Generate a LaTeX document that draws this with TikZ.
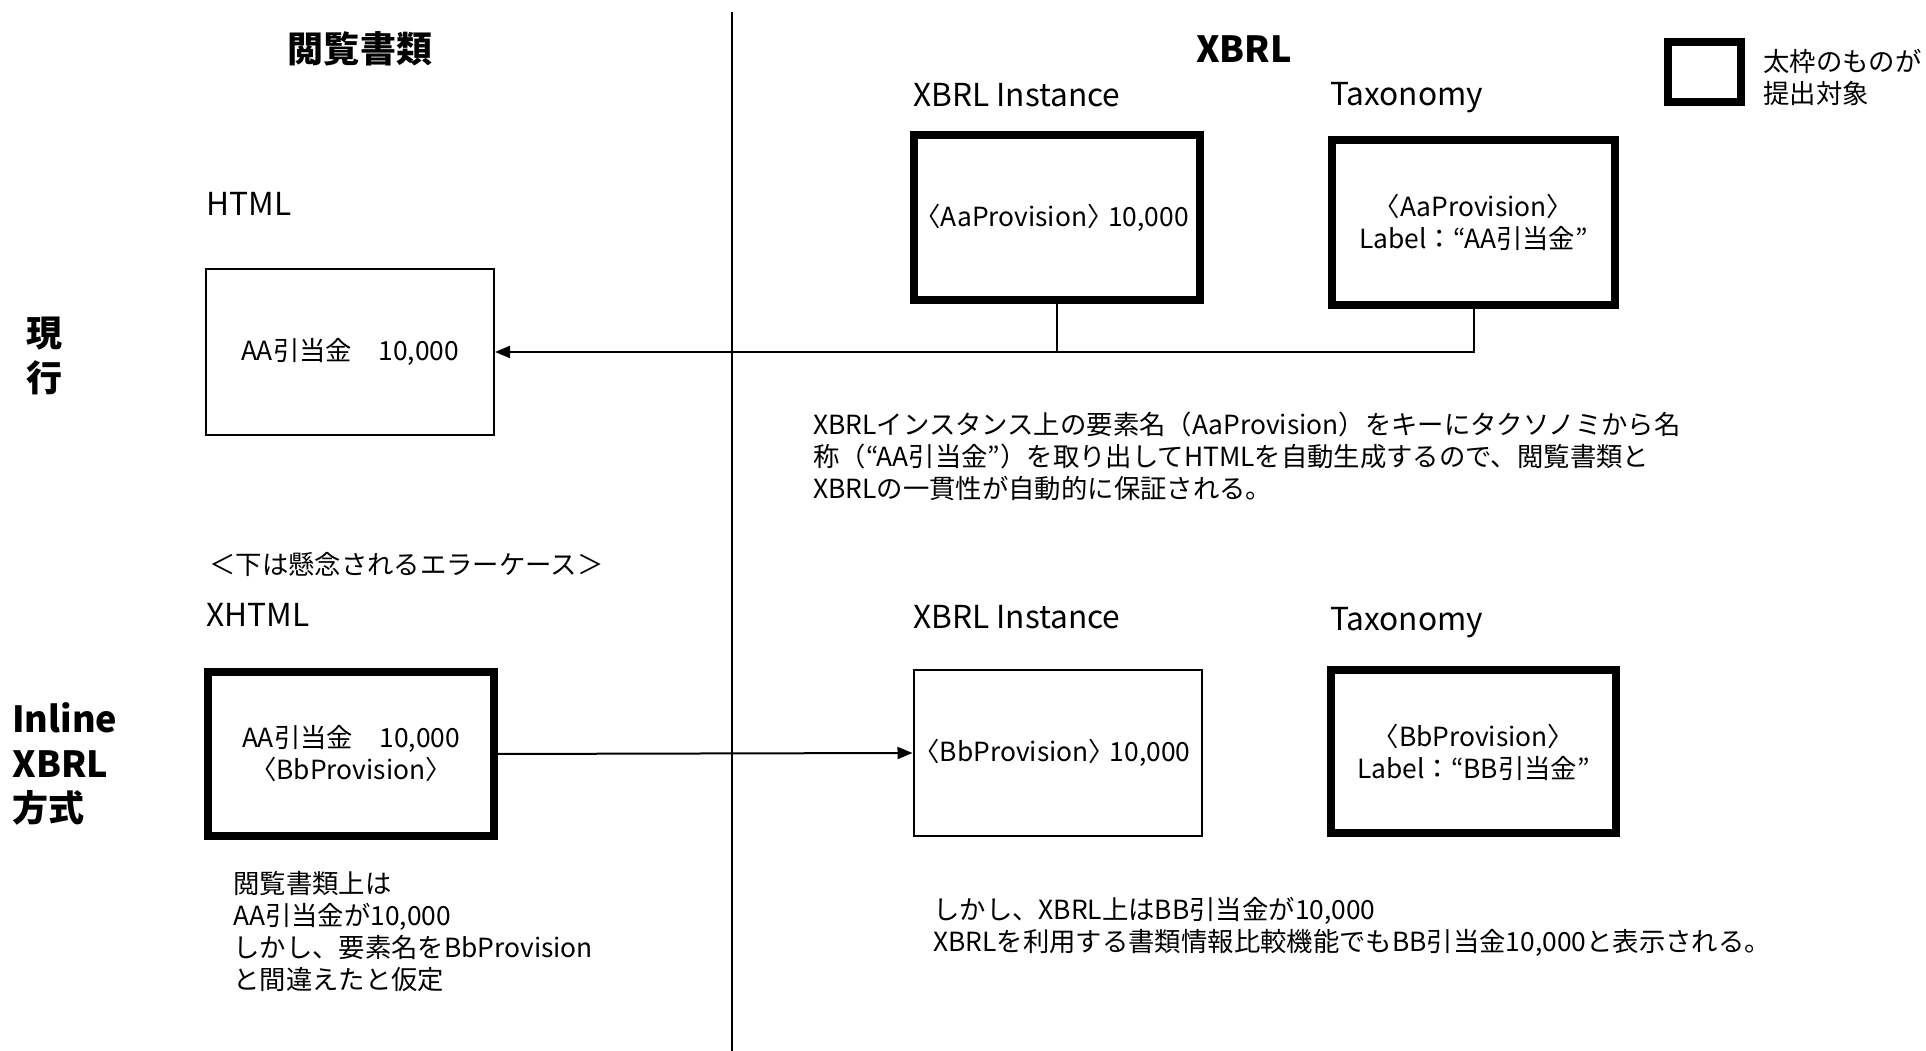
\documentclass[tikz,border=0pt]{standalone}
\usepackage{fontspec}
\setmainfont{Noto Sans CJK JP}
\usetikzlibrary{arrows.meta}

% half-width angle brackets
\newcommand{\openang}{\kern-0.42em〈}
\newcommand{\closeang}{〉\kern-0.42em}

\tikzset{
  body/.style={font=\fontsize{15}{18.2}\selectfont},
  thinbox/.style={draw, line width=0.04cm, align=center, inner sep=0pt, body},
  thickbox/.style={draw, line width=0.16cm, align=center, inner sep=0pt, body},
  lbl/.style={font=\fontsize{18}{21}\selectfont, anchor=west, inner sep=0pt},
  ttl/.style={font=\fontsize{20.5}{25.5}\selectfont\bfseries, inner sep=0pt},
  note/.style={body, anchor=west, align=left, inner sep=0pt},
  link/.style={line width=0.04cm},
}

\begin{document}
\begin{tikzpicture}
        \useasboundingbox (0,0) rectangle (38.52,21.02);

        % Draw the line between the two columns
        \draw[link, line width=0.03cm] (14.64,20.78) -- (14.64,0);

        % Column titles and legend
        \node[ttl] (docs) at (7.2,20.04) {閲覧書類};
        \node[ttl] (xbrl) at (24.88,20.04) {XBRL};
        \node[draw, line width=0.16cm, minimum width=1.46cm, minimum height=1.2cm] (legend) at (34.09,19.58) {};
        \node[note] (legendtext) at (35.26,19.48) {太枠のものが\\提出対象};

        % Current method
        \node[ttl, align=center] (current) at (0.9,13.9) {現\\行};
        \node[lbl] (htmllbl) at (4.12,16.94) {HTML};
        \node[lbl] (instlbl) at (18.26,19.12) {XBRL Instance};
        \node[lbl] (taxlbl) at (26.6,19.06) {Taxonomy};
        \node[thinbox, minimum width=5.76cm, minimum height=3.32cm] (html) at (7.0,13.98) {AA引当金　10,000};
        \node[thickbox, minimum width=5.72cm, minimum height=3.3cm] (inst) at (21.14,16.67) {\openang AaProvision\closeang\ 10,000};
        \node[thickbox, minimum width=5.66cm, minimum height=3.3cm] (tax) at (29.47,16.57) {\openang AaProvision\closeang\\Label：“AA引当金”};
        \draw[link] (inst.south) -- (inst.south |- html.east);
        \draw[link, -{Triangle[length=0.3cm,width=0.24cm]}] (tax.south) |- (html.east);
        \node[note] (desc) at (16.26,11.9) {XBRLインスタンス上の要素名（AaProvision）をキーにタクソノミから名\\称（“AA引当金”）を取り出してHTMLを自動生成するので、閲覧書類と\\XBRLの一貫性が自動的に保証される。};

        % Inline XBRL method
        \node[note] (errcase) at (4.18,9.74) {＜下は懸念されるエラーケース＞};
        \node[ttl, anchor=west, align=left] (inline) at (0.24,5.74) {Inline\\XBRL\\方式};
        \node[lbl] (xhtmllbl) at (4.12,8.72) {XHTML};
        \node[lbl] (instlbl2) at (18.26,8.68) {XBRL Instance};
        \node[lbl] (taxlbl2) at (26.6,8.56) {Taxonomy};
        \node[thickbox, minimum width=5.72cm, minimum height=3.28cm] (xhtml) at (7.02,5.94) {AA引当金　10,000\\\openang BbProvision\closeang};
        \node[thinbox, minimum width=5.76cm, minimum height=3.32cm] (inst2) at (21.15,5.96) {\openang BbProvision\closeang\ 10,000};
        \node[thickbox, minimum width=5.7cm, minimum height=3.26cm] (tax2) at (29.47,5.98) {\openang BbProvision\closeang\\Label：“BB引当金”};
        \draw[link, -{Triangle[length=0.3cm,width=0.24cm]}] (xhtml.east) -- (inst2.west);
        \node[note] (assume) at (4.66,2.38) {閲覧書類上は\\AA引当金が10,000\\しかし、要素名をBbProvision\\と間違えたと仮定};
        \node[note] (result) at (18.66,2.49) {しかし、XBRL上はBB引当金が10,000\\XBRLを利用する書類情報比較機能でもBB引当金10,000と表示される。};
    \end{tikzpicture}
\end{document}
